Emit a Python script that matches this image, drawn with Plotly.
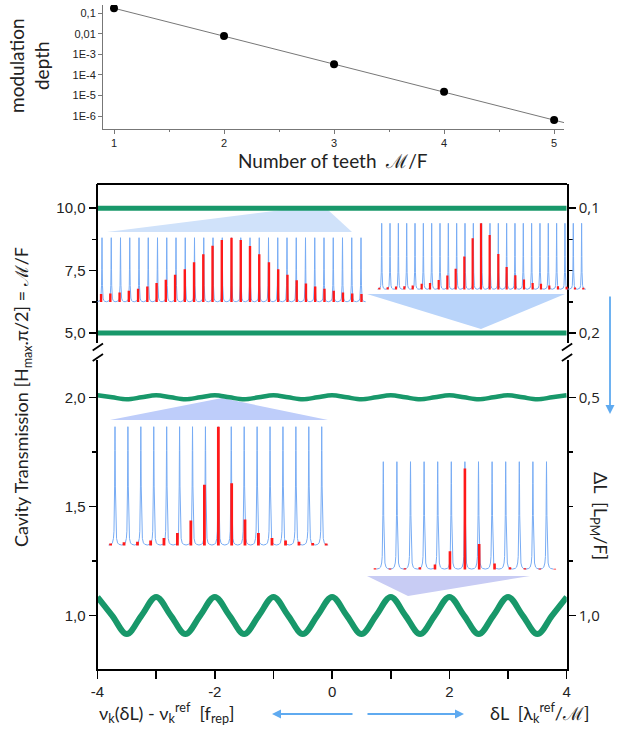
import plotly.graph_objects as go

W, H = 621, 731


def fx(px):
    return px / W


def fy(py):
    return 1 - py / H


# ------------------------------------------------------------------ data
# top chart: modulation depth vs number of teeth
teeth = [1, 2, 3, 4, 5]
mod_depth = [0.175, 0.0077, 3.3e-4, 1.5e-5, 6.4e-7]
fit_teeth = [1.0, 5.09]
fit_depth = [0.175, 4.8e-7]
depth_ticks = [1e-1, 1e-2, 1e-3, 1e-4, 1e-5, 1e-6]
depth_labels = ["0,1", "0,01", "1E-3", "1E-4", "1E-5", "1E-6"]
teeth_ticks = [1, 2, 3, 4, 5]

# main chart: cavity transmission vs detuning
detuning_flat = [-4.0, 4.0]
trans_mf10 = [10.0, 10.0]
trans_mf5 = [5.0, 5.0]
detuning = [-4.0, -3.75, -3.5, -3.25, -3.0, -2.75, -2.5, -2.25, -2.0, -1.75, -1.5,
            -1.25, -1.0, -0.75, -0.5, -0.25, 0.0, 0.25, 0.5, 0.75, 1.0, 1.25, 1.5,
            1.75, 2.0, 2.25, 2.5, 2.75, 3.0, 3.25, 3.5, 3.75, 4.0]
trans_mf2 = [2.009, 2.0, 1.991, 2.0, 2.009, 2.0, 1.991, 2.0, 2.009, 2.0, 1.991,
             2.0, 2.009, 2.0, 1.991, 2.0, 2.009, 2.0, 1.991, 2.0, 2.009, 2.0, 1.991,
             2.0, 2.009, 2.0, 1.991, 2.0, 2.009, 2.0, 1.991, 2.0, 2.009]
trans_mf1 = [1.085, 1.0, 0.915, 1.0, 1.085, 1.0, 0.915, 1.0, 1.085, 1.0, 0.915,
             1.0, 1.085, 1.0, 0.915, 1.0, 1.085, 1.0, 0.915, 1.0, 1.085, 1.0, 0.915,
             1.0, 1.085, 1.0, 0.915, 1.0, 1.085, 1.0, 0.915, 1.0, 1.085]

left_upper_ticks = [5.0, 7.5, 10.0]
left_upper_labels = ["5,0", "7,5", "10,0"]
left_lower_ticks = [1.0, 1.5, 2.0]
left_lower_labels = ["1,0", "1,5", "2,0"]
right_upper_ticks = [5.0, 10.0]
right_upper_labels = ["0,2", "0,1"]
right_lower_ticks = [1.0, 2.0]
right_lower_labels = ["1,0", "0,5"]
x_ticks = [-4, -3, -2, -1, 0, 1, 2, 3, 4]
x_labels = ["-4", "", "-2", "", "0", "", "2", "", "4"]

# insets: transmitted comb teeth (red) under cavity resonances (blue)
cav1_n = 29
tooth1_pos = [-0.1, 0.9, 1.9, 2.9, 3.9, 4.9, 5.9, 6.9, 7.9, 8.95, 9.95, 10.95, 11.95,
              12.95, 14.0, 15.0, 16.0, 17.0, 18.05, 19.05, 20.05, 21.05, 22.05,
              23.05, 24.05, 25.05, 26.05, 27.05, 28.05]
tooth1_h = [0.124, 0.134, 0.149, 0.175, 0.206, 0.242, 0.294, 0.345, 0.423, 0.51,
            0.619, 0.742, 0.876, 0.964, 1.0, 0.964, 0.871, 0.742, 0.619, 0.51,
            0.423, 0.34, 0.289, 0.242, 0.206, 0.175, 0.149, 0.134, 0.124]

cav2_n = 25
tooth2_pos = [-0.28, 0.72, 1.72, 2.72, 3.72, 4.8, 5.8, 6.84, 7.88, 8.88, 9.92,
              10.92, 11.92, 12.96, 14.0, 15.0, 16.04, 17.08, 18.12, 19.12, 20.12,
              21.16, 22.2, 23.2, 24.2]
tooth2_h = [0.025, 0.035, 0.045, 0.05, 0.06, 0.085, 0.10, 0.145, 0.21, 0.315, 0.50,
            0.775, 1.0, 0.825, 0.535, 0.34, 0.215, 0.15, 0.10, 0.085, 0.06, 0.05,
            0.04, 0.03, 0.025]

cav3_n = 17
tooth3_pos = [-0.34, 0.70, 1.74, 2.76, 3.79, 4.83, 5.87, 6.92, 8.0, 9.03, 10.06,
              11.1, 12.15, 13.2, 14.24, 15.3, 16.34]
tooth3_h = [0.017, 0.028, 0.031, 0.042, 0.064, 0.106, 0.21, 0.511, 1.0, 0.525,
            0.218, 0.106, 0.064, 0.042, 0.031, 0.022, 0.017]

cav4_n = 13
tooth4_pos = [-0.61, 0.49, 1.59, 2.69, 3.80, 4.90, 6.0, 7.05, 8.18, 9.31, 10.41,
              11.51, 12.61]
tooth4_h = [0.012, 0.009, 0.012, 0.022, 0.046, 0.169, 0.938, 0.237, 0.055, 0.022,
            0.012, 0.009, 0.006]

# ------------------------------------------------------------------ style
GREEN = "rgb(24,152,106)"
BLUE = "rgb(120,172,244)"
RED = "rgb(255,25,25)"
ARROW = "rgb(95,170,240)"
TICKFONT = dict(family="Liberation Sans, Arial", size=15, color="#222")

# half-profile of a resonance (offset in spacing units, relative height)
prof_dx = [0.0, 0.015, 0.03, 0.05, 0.08, 0.12, 0.2, 0.3, 0.5]
prof_f = [1.0, 0.8, 0.5, 0.26, 0.12, 0.06, 0.022, 0.01, 0.004]
full_dx = [-d for d in prof_dx[::-1]] + prof_dx[1:]
full_f = prof_f[::-1] + prof_f[1:]

# inset boxes in pixels: first peak x, spacing, baseline y, top y, bar width (px)
insets = [
    dict(p0=102.0, s=9.25, b=302.0, t=237.7, bw=2.4, n=cav1_n, pos=tooth1_pos, h=tooth1_h),
    dict(p0=381.7, s=8.33, b=289.5, t=223.3, bw=2.2, n=cav2_n, pos=tooth2_pos, h=tooth2_h),
    dict(p0=115.0, s=12.92, b=545.5, t=426.7, bw=2.8, n=cav3_n, pos=tooth3_pos, h=tooth3_h),
    dict(p0=383.3, s=13.6, b=569.5, t=461.7, bw=2.6, n=cav4_n, pos=tooth4_pos, h=tooth4_h),
]

fig = go.Figure()

# ---- top chart
fig.add_trace(go.Scatter(x=fit_teeth, y=fit_depth, mode="lines",
                         line=dict(color="#777", width=1), xaxis="x", yaxis="y",
                         hoverinfo="skip"))
fig.add_trace(go.Scatter(x=teeth, y=mod_depth, mode="markers",
                         marker=dict(color="black", size=8), xaxis="x", yaxis="y"))

# ---- main chart, upper segment
for yy in (trans_mf10, trans_mf5):
    fig.add_trace(go.Scatter(x=detuning_flat, y=yy, mode="lines",
                             line=dict(color=GREEN, width=5), xaxis="x2", yaxis="y2"))
# lower segment
fig.add_trace(go.Scatter(x=detuning, y=trans_mf2, mode="lines",
                         line=dict(color=GREEN, width=4.5, shape="spline"),
                         xaxis="x2", yaxis="y3"))
fig.add_trace(go.Scatter(x=detuning, y=trans_mf1, mode="lines",
                         line=dict(color=GREEN, width=6, shape="spline"),
                         xaxis="x2", yaxis="y3"))
# right axes carriers
fig.add_trace(go.Scatter(x=[-4], y=[10], mode="lines", xaxis="x2", yaxis="y4",
                         showlegend=False, hoverinfo="skip"))
fig.add_trace(go.Scatter(x=[-4], y=[2], mode="lines", xaxis="x2", yaxis="y5",
                         showlegend=False, hoverinfo="skip"))

layout_axes = {}
for k, ins in enumerate(insets):
    xa = "x%d" % (k + 3)
    ya = "y%d" % (k + 6)
    xs, ys = [], []
    for i in range(ins["n"]):
        for d, f in zip(full_dx, full_f):
            xs.append(i + d)
            ys.append(f)
    fig.add_trace(go.Scatter(x=xs, y=ys, mode="lines", line=dict(color=BLUE, width=1),
                             xaxis=xa, yaxis=ya, hoverinfo="skip"))
    # red transmitted teeth as vertical strokes drawn on top of the resonances
    rx, ry = [], []
    for p, hh in zip(ins["pos"], ins["h"]):
        rx += [p, p, None]
        ry += [0, hh, None]
    fig.add_trace(go.Scatter(x=rx, y=ry, mode="lines",
                             line=dict(color=RED, width=ins["bw"]),
                             xaxis=xa, yaxis=ya, hoverinfo="skip"))
    n = ins["n"]
    x0 = ins["p0"] - ins["s"]
    x1 = ins["p0"] + n * ins["s"]
    span = ins["b"] - ins["t"]
    layout_axes["xaxis%d" % (k + 3)] = dict(domain=[fx(x0), fx(x1)], range=[-1, n],
                                            visible=False, anchor=ya, fixedrange=True,
                                            automargin=False)
    layout_axes["yaxis%d" % (k + 6)] = dict(domain=[fy(ins["b"] + 0.05 * span),
                                                    fy(ins["t"] - 0.05 * span)],
                                            range=[-0.05, 1.05], visible=False,
                                            anchor=xa, fixedrange=True,
                                            automargin=False)


# ---- shapes: zoom cones, frame top, axis breaks
def poly(pts, color):
    path = "M " + " L ".join("%f,%f" % (fx(a), fy(b)) for a, b in pts) + " Z"
    return dict(type="path", path=path, xref="paper", yref="paper",
                fillcolor=color, line=dict(width=0), layer="below")


shapes = [
    poly([(107, 232), (290, 209), (327, 209), (352, 232)], "rgb(208,226,250)"),
    poly([(367, 294), (565, 294), (481, 329)], "rgb(185,212,250)"),
    poly([(110, 420), (328, 420), (222, 398)], "rgb(190,205,250)"),
    poly([(367, 576), (530, 576), (408, 596)], "rgb(200,204,244)"),
    dict(type="line", xref="paper", yref="paper", x0=fx(97), x1=fx(567),
         y0=fy(184), y1=fy(184), line=dict(color="black", width=2)),
]
for ax_px in (97.5, 566.7):
    for dy in (0, 10.5):
        shapes.append(dict(type="line", xref="paper", yref="paper",
                           x0=fx(ax_px - 4.8), x1=fx(ax_px + 5.5),
                           y0=fy(350.5 + dy), y1=fy(343.5 + dy),
                           line=dict(color="black", width=1.8)))

# ---- annotations
TITLE_FONT = dict(family="Lato, Open Sans, sans-serif", size=18, color="#222")
ann = [
    dict(text="modulation<br>depth", x=fx(29), y=fy(66), textangle=-90,
         font=dict(family="Lato, Open Sans, sans-serif", size=19, color="#222")),
    dict(text="Number of teeth  ℳ/F", x=fx(333), y=fy(160),
         font=dict(family="Lato, Open Sans, sans-serif", size=19, color="#222")),
    dict(text="Cavity Transmission [H<sub>max</sub>.π/2] = ℳ/F", x=fx(22), y=fy(397),
         textangle=-90, font=TITLE_FONT),
    dict(text="ΔL  [L<sub>PM</sub>/F]", x=fx(600), y=fy(516), textangle=90,
         font=TITLE_FONT),
    dict(text="ν<sub>k</sub>(δL) - ν<sub>k</sub><sup>ref</sup>  [f<sub>rep</sub>]",
         x=fx(97), y=fy(713), xanchor="left", font=TITLE_FONT),
    dict(text="δL  [λ<sub>k</sub><sup>ref</sup>/ℳ]", x=fx(591), y=fy(713),
         xanchor="right", font=TITLE_FONT),
]
for a in ann:
    a.update(xref="paper", yref="paper", showarrow=False)
    a.setdefault("xanchor", "center")
    a.setdefault("yanchor", "middle")
arrows = [
    ((272, 714), (354, 714)),
    ((464, 714), (366, 714)),
    ((610, 414), (610, 295)),
]
for (hx, hy), (tx, ty) in arrows:
    ann.append(dict(x=fx(hx), y=fy(hy), ax=tx - hx, ay=ty - hy, xref="paper",
                    yref="paper", text="", showarrow=True, arrowhead=2,
                    arrowsize=1, arrowwidth=1.8, arrowcolor=ARROW))

axis_common = dict(showgrid=False, zeroline=False, showline=True, linecolor="black",
                   linewidth=2, ticks="outside", ticklen=7, tickwidth=1.5,
                   tickcolor="black", tickfont=TICKFONT, fixedrange=True,
                   automargin=False)
right_common = {**axis_common,
                "tickfont": dict(family="Open Sans, sans-serif", size=15, color="#222")}
x2_common = {k: v for k, v in axis_common.items() if k != "ticklen"}
small_font = dict(family="Liberation Sans Narrow, Liberation Sans", size=11, color="#222")

fig.update_layout(
    width=W, height=H, autosize=False,
    margin=dict(l=0, r=0, t=0, b=0, pad=0, autoexpand=False),
    paper_bgcolor="white", plot_bgcolor="rgba(0,0,0,0)",
    showlegend=False,
    font=dict(family="Liberation Sans, Arial", color="#222"),
    xaxis=dict(domain=[fx(103), fx(564)], range=[0.9, 5.09], anchor="y",
               showgrid=False, zeroline=False, showline=True, linecolor="#777",
               linewidth=1, ticks="outside", ticklen=4, tickcolor="#777",
               tickvals=teeth_ticks, ticktext=[str(t) for t in teeth_ticks],
               tickfont=small_font,
               minor=dict(tickmode="array", tickvals=[1.5, 2.5, 3.5, 4.5], ticklen=2,
                          tickcolor="#777", ticks="outside"),
               fixedrange=True, automargin=False),
    yaxis=dict(domain=[fy(129), fy(5)], type="log", range=[-6.63, -0.6], anchor="x",
               showgrid=False, zeroline=False, showline=True, linecolor="#777",
               linewidth=1, ticks="outside", ticklen=4, tickcolor="#777",
               tickvals=depth_ticks, ticktext=depth_labels, tickfont=small_font,
               fixedrange=True, automargin=False),
    xaxis2=dict(domain=[fx(97.5), fx(566.7)], range=[-4, 4], anchor="y3",
                tickvals=x_ticks, ticktext=x_labels, ticklen=8, **x2_common),
    yaxis2=dict(domain=[fy(343), fy(184)], range=[4.6, 10.97], anchor="x2",
                tickvals=left_upper_ticks, ticktext=left_upper_labels,
                minor=dict(tickmode="array", tickvals=[6.25, 8.75], ticklen=4,
                           tickcolor="black", ticks="outside"),
                **axis_common),
    yaxis3=dict(domain=[fy(669), fy(360)], range=[0.755, 2.171], anchor="x2",
                tickvals=left_lower_ticks, ticktext=left_lower_labels,
                minor=dict(tickmode="array", tickvals=[1.25, 1.75], ticklen=4,
                           tickcolor="black", ticks="outside"),
                **axis_common),
    yaxis4=dict(overlaying="y2", side="right", range=[4.6, 10.97], anchor="x2",
                tickvals=right_upper_ticks, ticktext=right_upper_labels,
                minor=dict(tickmode="array", tickvals=[6.25, 7.5, 8.75], ticklen=4,
                           tickcolor="black", ticks="outside"),
                **right_common),
    yaxis5=dict(overlaying="y3", side="right", range=[0.755, 2.171], anchor="x2",
                tickvals=right_lower_ticks, ticktext=right_lower_labels,
                minor=dict(tickmode="array", tickvals=[1.25, 1.5, 1.75], ticklen=4,
                           tickcolor="black", ticks="outside"),
                **right_common),
    shapes=shapes,
    annotations=ann,
    **layout_axes,
)

fig.write_html(
    "out.html",
    config={"displayModeBar": False, "staticPlot": True},
    post_script="document.body.style.margin='0';document.body.style.padding='0';",
)
